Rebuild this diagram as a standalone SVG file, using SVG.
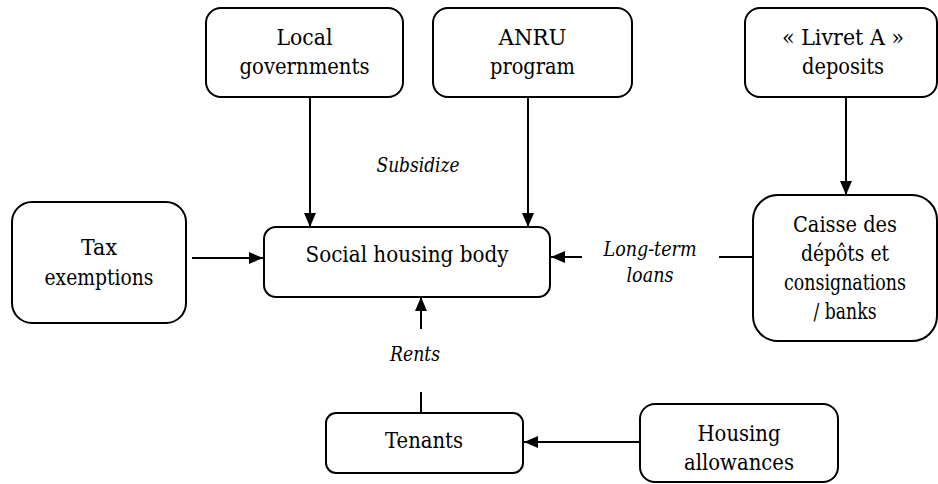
<svg xmlns="http://www.w3.org/2000/svg" width="938" height="484" viewBox="0 0 938 484">
<defs>
<style>
.box{fill:#fff;stroke:#000;stroke-width:2}
.t{font-family:'DejaVu Serif','Liberation Serif',serif;font-size:22px;fill:#000;text-anchor:middle}
.lbl{font-family:'DejaVu Serif','Liberation Serif',serif;font-size:20px;font-style:italic;fill:#000;text-anchor:middle}
.c{stroke:#000;stroke-width:2;fill:none}
</style>
<marker id="ah" markerUnits="userSpaceOnUse" markerWidth="14" markerHeight="12" refX="14" refY="6" orient="auto">
<path d="M0,0 L14,6 L0,12 Z" fill="#000"/>
</marker>
</defs>
<rect width="938" height="484" fill="#fff"/>
<g id="connectors">
<line class="c" x1="310" y1="97" x2="310" y2="227" marker-end="url(#ah)"/>
<line class="c" x1="528" y1="97" x2="528" y2="227" marker-end="url(#ah)"/>
<line class="c" x1="846" y1="97" x2="846" y2="195" marker-end="url(#ah)"/>
<line class="c" x1="192" y1="258" x2="263" y2="258" marker-end="url(#ah)"/>
<line class="c" x1="582" y1="257" x2="551" y2="257" marker-end="url(#ah)"/>
<line class="c" x1="719" y1="257" x2="753" y2="257"/>
<line class="c" x1="421" y1="329" x2="421" y2="297" marker-end="url(#ah)"/>
<line class="c" x1="421" y1="392" x2="421" y2="413"/>
<line class="c" x1="640" y1="442" x2="524" y2="442" marker-end="url(#ah)"/>
<text class="lbl" x="418" y="172" textLength="83" lengthAdjust="spacingAndGlyphs">Subsidize</text>
<text class="lbl" x="650" y="256" textLength="93" lengthAdjust="spacingAndGlyphs">Long-term</text>
<text class="lbl" x="650" y="282" textLength="47" lengthAdjust="spacingAndGlyphs">loans</text>
<text class="lbl" x="415" y="361" textLength="50" lengthAdjust="spacingAndGlyphs">Rents</text>
</g>
<g id="local">
<rect class="box" x="206" y="8" width="197" height="89" rx="15"/>
<text class="t" x="304.5" y="45" textLength="56" lengthAdjust="spacingAndGlyphs">Local</text>
<text class="t" x="304.5" y="74" textLength="130" lengthAdjust="spacingAndGlyphs">governments</text>
</g>
<g id="anru">
<rect class="box" x="433" y="8" width="199" height="89" rx="15"/>
<text class="t" x="532.5" y="45" textLength="68" lengthAdjust="spacingAndGlyphs">ANRU</text>
<text class="t" x="532.5" y="74" textLength="85" lengthAdjust="spacingAndGlyphs">program</text>
</g>
<g id="livret">
<rect class="box" x="745" y="8" width="192" height="89" rx="15"/>
<text class="t" x="843" y="45" textLength="122" lengthAdjust="spacingAndGlyphs">« Livret A »</text>
<text class="t" x="843" y="74" textLength="82" lengthAdjust="spacingAndGlyphs">deposits</text>
</g>
<g id="tax">
<rect class="box" x="12" y="202" width="174" height="121" rx="20"/>
<text class="t" x="99" y="255" textLength="36" lengthAdjust="spacingAndGlyphs">Tax</text>
<text class="t" x="99" y="285" textLength="109" lengthAdjust="spacingAndGlyphs">exemptions</text>
</g>
<g id="social">
<rect class="box" x="264" y="227" width="286" height="70" rx="12"/>
<text class="t" x="407" y="262" textLength="203" lengthAdjust="spacingAndGlyphs">Social housing body</text>
</g>
<g id="caisse">
<rect class="box" x="753" y="195" width="184" height="146" rx="25"/>
<text class="t" x="845" y="232" textLength="104" lengthAdjust="spacingAndGlyphs">Caisse des</text>
<text class="t" x="845" y="261" textLength="88" lengthAdjust="spacingAndGlyphs">dépôts et</text>
<text class="t" x="845" y="290" textLength="122" lengthAdjust="spacingAndGlyphs">consignations</text>
<text class="t" x="845" y="319" textLength="63" lengthAdjust="spacingAndGlyphs">/ banks</text>
</g>
<g id="tenants">
<rect class="box" x="326" y="413" width="197" height="60" rx="10"/>
<text class="t" x="424" y="448" textLength="78" lengthAdjust="spacingAndGlyphs">Tenants</text>
</g>
<g id="housing">
<rect class="box" x="640" y="404" width="198" height="78" rx="15"/>
<text class="t" x="739" y="441" textLength="83" lengthAdjust="spacingAndGlyphs">Housing</text>
<text class="t" x="739" y="470" textLength="110" lengthAdjust="spacingAndGlyphs">allowances</text>
</g>
</svg>
